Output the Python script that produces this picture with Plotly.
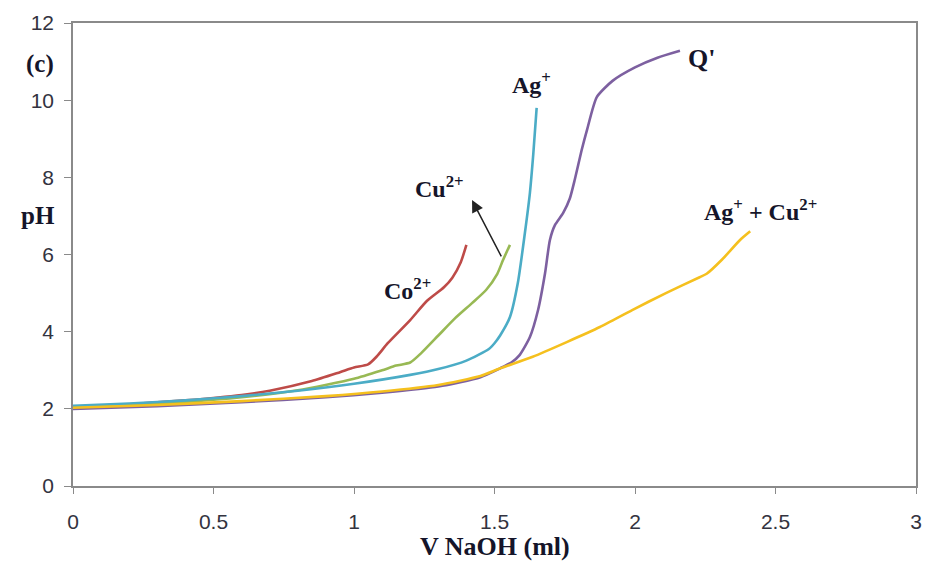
import plotly.graph_objects as go

# Co2+ (red)
co_x = [0, 0.2, 0.4, 0.6, 0.7, 0.85, 0.95, 1.0, 1.05, 1.08, 1.12, 1.2, 1.26, 1.32, 1.35, 1.38, 1.40]
co_y = [2.05, 2.12, 2.22, 2.36, 2.47, 2.72, 2.95, 3.07, 3.15, 3.35, 3.7, 4.3, 4.8, 5.15, 5.4, 5.8, 6.25]

# Cu2+ (green)
cu_x = [0, 0.2, 0.4, 0.6, 0.8, 1.0, 1.1, 1.15, 1.2, 1.24, 1.3, 1.36, 1.42, 1.47, 1.51, 1.53, 1.555]
cu_y = [2.05, 2.1, 2.18, 2.3, 2.48, 2.78, 3.0, 3.12, 3.2, 3.45, 3.9, 4.35, 4.74, 5.08, 5.5, 5.85, 6.25]

# Ag+ (cyan)
ag_x = [0, 0.2, 0.4, 0.6, 0.8, 1.0, 1.2, 1.3, 1.4, 1.48, 1.5, 1.52, 1.555, 1.583, 1.608, 1.626, 1.638, 1.65]
ag_y = [2.08, 2.14, 2.22, 2.33, 2.47, 2.65, 2.88, 3.03, 3.25, 3.55, 3.7, 3.9, 4.38, 5.26, 6.55, 7.6, 8.6, 9.8]

# Q' (purple)
q_x = [0, 0.3, 0.6, 0.9, 1.1, 1.3, 1.45, 1.52, 1.56, 1.59, 1.626, 1.655, 1.68, 1.697, 1.715,
       1.744, 1.768, 1.786, 1.81, 1.83, 1.864, 1.92, 2.0, 2.08, 2.16]
q_y = [2.0, 2.07, 2.17, 2.3, 2.42, 2.58, 2.82, 3.05, 3.2, 3.4, 3.86, 4.56, 5.52, 6.37, 6.76,
       7.07, 7.45, 7.95, 8.7, 9.25, 10.08, 10.5, 10.85, 11.1, 11.28]

# Ag+ + Cu2+ (yellow)
mix_x = [0, 0.3, 0.6, 0.9, 1.1, 1.3, 1.45, 1.52, 1.636, 1.757, 1.875, 1.99, 2.11, 2.23, 2.255, 2.31, 2.373, 2.41]
mix_y = [2.03, 2.1, 2.2, 2.33, 2.45, 2.62, 2.85, 3.05, 3.35, 3.73, 4.12, 4.56, 5.0, 5.41, 5.5, 5.87, 6.37, 6.6]

x_ticks = [0, 0.5, 1, 1.5, 2, 2.5, 3]
x_tick_text = ["0", "0.5", "1", "1.5", "2", "2.5", "3"]
y_ticks = [0, 2, 4, 6, 8, 10, 12]

series = [
    (co_x, co_y, "#BE4B48"),
    (cu_x, cu_y, "#98B954"),
    (ag_x, ag_y, "#4BACC6"),
    (q_x, q_y, "#7D60A0"),
    (mix_x, mix_y, "#F5C01E"),
]

fig = go.Figure()
for xs, ys, c in series:
    fig.add_trace(go.Scatter(x=xs, y=ys, mode="lines",
                             line=dict(color=c, width=2.6, shape="spline", smoothing=0.6),
                             showlegend=False, hoverinfo="skip"))

TXT = "#15152a"
lab_font = dict(family="Liberation Serif", size=24, color=TXT)

def lab(x, y, text, size=24, xref="x", yref="y"):
    fig.add_annotation(x=x, y=y, xref=xref, yref=yref, text=text, showarrow=False,
                       xanchor="center", yanchor="middle",
                       font=dict(family="Liberation Serif", size=size, color=TXT))

lab(1.19, 5.1, "<b>Co<sup>2+</sup></b>")
lab(1.306, 7.75, "<b>Cu<sup>2+</sup></b>")
lab(1.633, 10.45, "<b>Ag<sup>+</sup></b>")
lab(2.235, 11.09, "<b>Q'</b>", size=26)
lab(2.445, 7.15, "<b>Ag<sup>+</sup> + Cu<sup>2+</sup></b>")
# arrow
fig.add_annotation(x=1.42, y=7.41, ax=1.527, ay=5.91, xref="x", yref="y", axref="x", ayref="y",
                   text="", showarrow=True, arrowhead=2, arrowsize=1.6, arrowwidth=1.5, arrowcolor="#222222")

lab(-0.039, 0.912, "<b>(c)</b>", size=25, xref="paper", yref="paper")
lab(-0.042, 0.585, "<b>pH</b>", size=25, xref="paper", yref="paper")
lab(0.5, -0.13, "<b>V NaOH (ml)</b>", size=26, xref="paper", yref="paper")

fig.update_layout(
    width=927, height=565,
    margin=dict(l=73, r=11, t=23, b=79),
    paper_bgcolor="white", plot_bgcolor="white",
    xaxis=dict(range=[0, 3], tickvals=x_ticks, ticktext=x_tick_text, showgrid=False, zeroline=False,
               showline=True, linecolor="#8a8a8a", linewidth=1.5, mirror=True, automargin=False,
               ticks="outside", ticklen=6, tickcolor="#8a8a8a", ticklabelstandoff=10,
               tickfont=dict(family="Liberation Sans", size=21, color="#333340")),
    yaxis=dict(range=[0, 12], tickvals=y_ticks, showgrid=False, zeroline=False,
               showline=True, linecolor="#8a8a8a", linewidth=1.5, mirror=True, automargin=False,
               ticks="outside", ticklen=7, tickcolor="#8a8a8a", ticklabelstandoff=6,
               tickfont=dict(family="Liberation Sans", size=21, color="#333340")),
)

fig.write_html("out.html")
